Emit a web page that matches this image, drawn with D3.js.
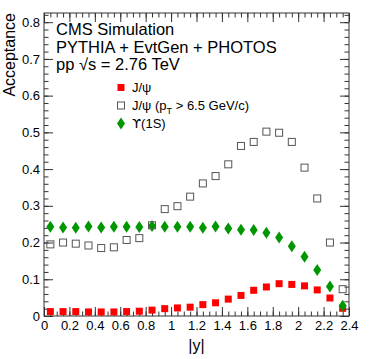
<!DOCTYPE html>
<html>
<head>
<meta charset="utf-8">
<script src="https://cdn.jsdelivr.net/npm/d3@7"></script>
<style>
  html, body { margin: 0; padding: 0; background: #fff; }
  svg { display: block; font-family: "Liberation Sans", Arial, sans-serif; }
</style>
</head>
<body>
<div id="chart"></div>
<script>
// |y| bin centres (bin width 0.1)
const binCenters = [0.05, 0.15, 0.25, 0.35, 0.45, 0.55, 0.65, 0.75, 0.85, 0.95, 1.05, 1.15,
                    1.25, 1.35, 1.45, 1.55, 1.65, 1.75, 1.85, 1.95, 2.05, 2.15, 2.25, 2.35];

const jpsi = [0.012, 0.012, 0.012, 0.011, 0.011, 0.011, 0.012, 0.013, 0.016, 0.020, 0.022, 0.024,
              0.031, 0.036, 0.046, 0.056, 0.070, 0.079, 0.088, 0.086, 0.082, 0.071, 0.049, 0.021];

const jpsiHighPt = [0.195, 0.200, 0.197, 0.192, 0.185, 0.187, 0.207, 0.212, 0.247, 0.291, 0.299, 0.325,
                    0.361, 0.381, 0.413, 0.463, 0.474, 0.502, 0.499, 0.474, 0.404, 0.320, 0.200, 0.073];

const upsilon = [0.243, 0.241, 0.240, 0.244, 0.241, 0.243, 0.243, 0.242, 0.245, 0.243, 0.243, 0.243,
                 0.240, 0.244, 0.238, 0.235, 0.234, 0.227, 0.214, 0.190, 0.161, 0.125, 0.080, 0.028];

const xTicks = [0, 0.2, 0.4, 0.6, 0.8, 1, 1.2, 1.4, 1.6, 1.8, 2, 2.2, 2.4];
const yTicks = [0, 0.1, 0.2, 0.3, 0.4, 0.5, 0.6, 0.7, 0.8];

const headerLines = ['CMS Simulation', 'PYTHIA + EvtGen + PHOTOS', 'pp \u221As = 2.76 TeV'];

const width = 374,
    height = 359,
    margin = {top: 13, right: 25, bottom: 43, left: 44};

const x = d3.scaleLinear()
    .domain([0, 2.4])
    .range([margin.left, width - margin.right]);

const y = d3.scaleLinear()
    .domain([0, 0.825])
    .range([height - margin.bottom, margin.top]);

const svg = d3.select('#chart')
    .append('svg')
    .attr('width', width)
    .attr('height', height);

const axisColor = '#333';
const fmt = d => d3.format('~g')(d);

// minor tick values
const xMinor = d3.range(0, 2.4001, 0.05).map(v => +v.toFixed(2)),
    yMinor = d3.range(0, 0.8201, 0.02).map(v => +v.toFixed(2));

function styleAxis(g) {
    g.select('.domain').remove();
    g.selectAll('line').attr('stroke', axisColor);
    g.selectAll('text').attr('fill', '#000').style('font-size', '13px');
}

// bottom axis
svg.append('g')
    .attr('transform', `translate(0,${y(0)})`)
    .call(d3.axisBottom(x).tickValues(xMinor).tickSize(-4.5).tickFormat(''))
    .call(styleAxis);
svg.append('g')
    .attr('transform', `translate(0,${y(0)})`)
    .call(d3.axisBottom(x).tickValues(xTicks).tickSize(-9).tickPadding(5).tickFormat(fmt))
    .call(styleAxis);

// top axis (ticks only)
svg.append('g')
    .attr('transform', `translate(0,${margin.top})`)
    .call(d3.axisTop(x).tickValues(xMinor).tickSize(-4.5).tickFormat(''))
    .call(styleAxis);
svg.append('g')
    .attr('transform', `translate(0,${margin.top})`)
    .call(d3.axisTop(x).tickValues(xTicks).tickSize(-9).tickFormat(''))
    .call(styleAxis);

// left axis
svg.append('g')
    .attr('transform', `translate(${x(0)},0)`)
    .call(d3.axisLeft(y).tickValues(yMinor).tickSize(-4.5).tickFormat(''))
    .call(styleAxis);
svg.append('g')
    .attr('transform', `translate(${x(0)},0)`)
    .call(d3.axisLeft(y).tickValues(yTicks).tickSize(-9).tickPadding(4).tickFormat(fmt))
    .call(styleAxis);

// right axis (ticks only)
svg.append('g')
    .attr('transform', `translate(${x(2.4)},0)`)
    .call(d3.axisRight(y).tickValues(yMinor).tickSize(-4.5).tickFormat(''))
    .call(styleAxis);
svg.append('g')
    .attr('transform', `translate(${x(2.4)},0)`)
    .call(d3.axisRight(y).tickValues(yTicks).tickSize(-9).tickFormat(''))
    .call(styleAxis);

// frame
svg.append('rect')
    .attr('x', x(0))
    .attr('y', margin.top)
    .attr('width', x(2.4) - x(0))
    .attr('height', y(0) - margin.top)
    .attr('fill', 'none')
    .attr('stroke', axisColor)
    .attr('stroke-width', 1);

// axis titles
svg.append('text')
    .attr('transform', `translate(14.5,${margin.top}) rotate(-90)`)
    .attr('text-anchor', 'end')
    .style('font-size', '16px')
    .text('Acceptance');

svg.append('text')
    .attr('x', (x(0) + x(2.4)) / 2)
    .attr('y', 351)
    .attr('text-anchor', 'middle')
    .style('font-size', '16px')
    .text('|y|');

// markers
const diamond = (cx, cy, w, h) => `M${cx},${cy - h / 2}L${cx + w / 2},${cy}L${cx},${cy + h / 2}L${cx - w / 2},${cy}Z`;

svg.append('g')
    .selectAll('rect')
    .data(jpsi)
    .join('rect')
    .attr('x', (d, i) => x(binCenters[i]) - 3.5)
    .attr('y', d => y(d) - 3.5)
    .attr('width', 7)
    .attr('height', 7)
    .attr('fill', '#ff0000');

svg.append('g')
    .selectAll('path')
    .data(upsilon)
    .join('path')
    .attr('d', (d, i) => diamond(x(binCenters[i]), y(d), 8, 12))
    .attr('fill', '#009600');

svg.append('g')
    .selectAll('rect')
    .data(jpsiHighPt)
    .join('rect')
    .attr('x', (d, i) => x(binCenters[i]) - 3.5)
    .attr('y', d => y(d) - 3.5)
    .attr('width', 7)
    .attr('height', 7)
    .attr('fill', 'none')
    .attr('stroke', '#555')
    .attr('stroke-width', 1);

// header
svg.append('g')
    .selectAll('text')
    .data(headerLines)
    .join('text')
    .attr('x', 56)
    .attr('y', (d, i) => 35 + i * 17.5)
    .style('font-size', '16.5px')
    .text(d => d);

// legend
const legend = svg.append('g').attr('transform', 'translate(121,0)');
const legendY = [87.5, 105.5, 123.5];

legend.append('rect')
    .attr('x', -3.5).attr('y', legendY[0] - 3.5)
    .attr('width', 7).attr('height', 7)
    .attr('fill', '#ff0000');
legend.append('rect')
    .attr('x', -3.5).attr('y', legendY[1] - 3.5)
    .attr('width', 7).attr('height', 7)
    .attr('fill', 'none').attr('stroke', '#555');
legend.append('path')
    .attr('d', diamond(0, legendY[2], 8, 12))
    .attr('fill', '#009600');

const lt = legend.append('g').style('font-size', '13px');
lt.append('text').attr('x', 11).attr('y', legendY[0] + 4.5).text('J/\u03C8');
const t2 = lt.append('text').attr('x', 11).attr('y', legendY[1] + 4.5);
t2.append('tspan').text('J/\u03C8 (p');
t2.append('tspan').attr('dy', 3.5).style('font-size', '9px').text('T');
t2.append('tspan').attr('dy', -3.5).text(' > 6.5 GeV/c)');
const t3 = lt.append('text').attr('x', 11).attr('y', legendY[2] + 4.5);
t3.append('tspan').style('font-family', '"DejaVu Sans", sans-serif').text('\u03D2');
t3.append('tspan').text('(1S)');
</script>
</body>
</html>
